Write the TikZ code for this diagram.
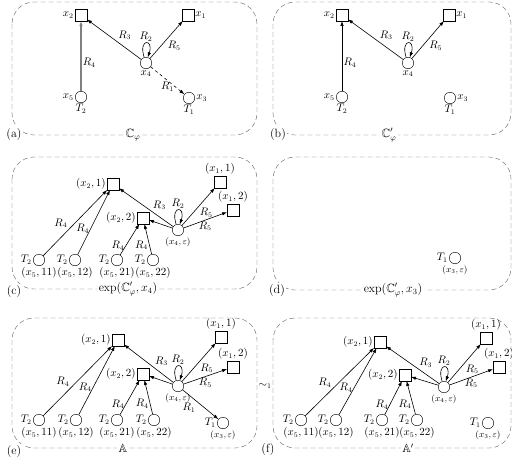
\documentclass[tikz,border=0pt]{standalone}
\usepackage{amssymb}
\usetikzlibrary{arrows.meta,positioning}

\begin{document}
\begin{tikzpicture}[
  x=1pt, y=1pt, font=\fontsize{10.5}{12}\selectfont,
  every label/.style={inner sep=1.2pt},
  sq/.style={draw, minimum size=11.5pt, inner sep=0pt},
  cir/.style={draw, circle, minimum size=11.5pt, inner sep=0pt},
  frm/.style={draw=black!62, dash pattern=on 5pt off 3pt, rounded corners=22pt},
  arr/.style={-{Latex[length=5pt,width=3.5pt]}, line width=0.6pt},
  selfloop/.style={out=108, in=72, min distance=20pt},
  lab/.style={inner sep=1.2pt},
  sm/.style={font=\small},
  captxt/.style={fill=white, inner sep=1.5pt, font=\large}
]
\useasboundingbox (0,0) rectangle (512,-466);

\draw[frm] (12,-2) rectangle (257,-135);
\node[sq, label=left:$x_2$] (a2) at (81,-15) {};
\node[sq, label=right:$x_1$] (a1) at (188,-15) {};
\node[cir, label=below:$x_4$] (a4) at (146,-63) {};
\node[cir, label=left:$x_5$, label=below:$T_2$] (a5) at (81,-97) {};
\node[cir, label=right:$x_3$, label=below:$T_1$] (a3) at (189,-98) {};
\draw[arr, gray, line width=1.2pt] (a5) -- node[pos=0.4, right, lab, text=black] {$R_4$} (a2);
\draw[arr] (a4) -- node[pos=0.45, above right, lab] {$R_3$} (a2);
\draw[arr] (a4) -- node[midway, below right, lab] {$R_5$} (a1);
\draw[arr] (a4) to[selfloop] node[above, lab] {$R_2$} (a4);
\draw[arr, dashed] (a4) -- node[midway, below, lab] {$R_1$} (a3);
\node[captxt] (capa) at (133,-135) {$\mathbb{C}_\varphi$};
\node[captxt] (taga) at (14,-135) {(a)};

\draw[frm] (273,-2) rectangle (511,-135);
\node[sq, label=left:$x_2$] (b2) at (342,-15) {};
\node[sq, label=right:$x_1$] (b1) at (449,-15) {};
\node[cir, label=below:$x_4$] (b4) at (408,-63) {};
\node[cir, label=left:$x_5$, label=below:$T_2$] (b5) at (342,-97) {};
\node[cir, label=right:$x_3$, label=below:$T_1$] (b3) at (450,-98) {};
\draw[arr] (b5) -- node[pos=0.4, right, lab] {$R_4$} (b2);
\draw[arr] (b4) -- node[pos=0.45, above right, lab] {$R_3$} (b2);
\draw[arr] (b4) -- node[midway, below right, lab] {$R_5$} (b1);
\draw[arr] (b4) to[selfloop] node[above, lab] {$R_2$} (b4);
\node[captxt] (capb) at (389,-135) {$\mathbb{C}'_\varphi$};
\node[captxt] (tagb) at (278,-135) {(b)};

\draw[frm] (12,-157) rectangle (257,-289);
\node[sq, label=left:{$(x_2,1)$}] (c21) at (113,-184) {};
\node[sq, label=left:{$(x_2,2)$}] (c22) at (143,-218) {};
\node[sq, label=above:{$(x_1,1)$}] (c11) at (220,-182) {};
\node[sq, label=above:{$(x_1,2)$}] (c12) at (233,-210) {};
\node[cir, label={[sm]below:$(x_4,\varepsilon)$}] (c4) at (178,-230) {};
\node[cir, label=left:$T_2$, label=below:{$(x_5,11)$}] (c511) at (39,-260) {};
\node[cir, label=left:$T_2$, label=below:{$(x_5,12)$}] (c512) at (75,-260) {};
\node[cir, label=left:$T_2$, label=below:{$(x_5,21)$}] (c521) at (117,-260) {};
\node[cir, label=left:$T_2$, label=below:{$(x_5,22)$}] (c522) at (153,-260) {};
\draw[arr] (c511) -- node[pos=0.4, above left, lab] {$R_4$} (c21);
\draw[arr] (c512) -- node[pos=0.4, left, lab] {$R_4$} (c21);
\draw[arr] (c521) -- node[pos=0.3, left, lab] {$R_4$} (c22);
\draw[arr] (c522) -- node[pos=0.3, left, lab] {$R_4$} (c22);
\draw[arr] (c4) -- node[pos=0.4, above right, lab] {$R_3$} (c21);
\draw[arr] (c4) -- (c22);
\draw[arr] (c4) -- node[midway, below right, lab] {$R_5$} (c11);
\draw[arr] (c4) -- node[midway, below, lab] {$R_5$} (c12);
\draw[arr] (c4) to[selfloop] node[above, lab] {$R_2$} (c4);
\node[captxt] (capc) at (128,-289) {$\exp(\mathbb{C}'_\varphi,x_4)$};
\node[captxt] (tagc) at (14,-292) {(c)};

\draw[frm] (273,-157) rectangle (511,-290);
\node[cir, label=left:$T_1$, label={[sm]below:$(x_3,\varepsilon)$}] (d3) at (455,-258) {};
\node[captxt] (capd) at (393,-290) {$\exp(\mathbb{C}'_\varphi,x_3)$};
\node[captxt] (tagd) at (277,-291) {(d)};

\draw[frm] (12,-318) rectangle (257,-448);
\node[sq, label=left:{$(x_2,1)$}] (e21) at (118,-340) {};
\node[sq, label=left:{$(x_2,2)$}] (e22) at (143,-374) {};
\node[sq, label=above:{$(x_1,1)$}] (e11) at (221,-337) {};
\node[sq, label=above:{$(x_1,2)$}] (e12) at (233,-367) {};
\node[cir, label={[sm]below:$(x_4,\varepsilon)$}] (e4) at (178,-386) {};
\node[cir, label=left:$T_2$, label=below:{$(x_5,11)$}] (e511) at (39,-420) {};
\node[cir, label=left:$T_2$, label=below:{$(x_5,12)$}] (e512) at (76,-420) {};
\node[cir, label=left:$T_2$, label=below:{$(x_5,21)$}] (e521) at (117,-420) {};
\node[cir, label=left:$T_2$, label=below:{$(x_5,22)$}] (e522) at (154,-420) {};
\node[cir, label=left:$T_1$, label={[sm]below:$(x_3,\varepsilon)$}] (e3) at (223,-423) {};
\draw[arr] (e511) -- node[pos=0.4, above left, lab] {$R_4$} (e21);
\draw[arr] (e512) -- node[pos=0.4, left, lab] {$R_4$} (e21);
\draw[arr] (e521) -- node[pos=0.3, left, lab] {$R_4$} (e22);
\draw[arr] (e522) -- node[pos=0.3, left, lab] {$R_4$} (e22);
\draw[arr] (e4) -- node[pos=0.4, above right, lab] {$R_3$} (e21);
\draw[arr] (e4) -- (e22);
\draw[arr] (e4) -- node[midway, below right, lab] {$R_5$} (e11);
\draw[arr] (e4) -- node[midway, below, lab] {$R_5$} (e12);
\draw[arr] (e4) to[selfloop] node[above, lab] {$R_2$} (e4);
\draw[arr] (e4) -- node[pos=0.4, below left, lab] {$R_1$} (e3);
\node[captxt] (cape) at (123,-448) {$\mathbb{A}$};
\node[captxt] (tage) at (14,-452) {(e)};

\node (sim) at (265,-386) {$\sim_1$};

\draw[frm] (273,-318) rectangle (511,-448);
\node[sq, label=left:{$(x_2,1)$}] (f21) at (380,-342) {};
\node[sq, label=left:{$(x_2,2)$}] (f22) at (405,-375) {};
\node[sq, label=above:{$(x_1,1)$}] (f11) at (486,-338) {};
\node[sq, label=above:{$(x_1,2)$}] (f12) at (499,-367) {};
\node[cir, label={[sm]below:$(x_4,\varepsilon)$}] (f4) at (444,-387) {};
\node[cir, label=left:$T_2$, label=below:{$(x_5,11)$}] (f511) at (301,-420) {};
\node[cir, label=left:$T_2$, label=below:{$(x_5,12)$}] (f512) at (336,-420) {};
\node[cir, label=left:$T_2$, label=below:{$(x_5,21)$}] (f521) at (382,-420) {};
\node[cir, label=left:$T_2$, label=below:{$(x_5,22)$}] (f522) at (417,-420) {};
\node[cir, label=left:$T_1$, label={[sm]below:$(x_3,\varepsilon)$}] (f3) at (488,-423) {};
\draw[arr] (f511) -- node[pos=0.4, above left, lab] {$R_4$} (f21);
\draw[arr] (f512) -- node[pos=0.4, left, lab] {$R_4$} (f21);
\draw[arr] (f521) -- node[pos=0.3, left, lab] {$R_4$} (f22);
\draw[arr] (f522) -- node[pos=0.3, left, lab] {$R_4$} (f22);
\draw[arr] (f4) -- node[pos=0.4, above right, lab] {$R_3$} (f21);
\draw[arr] (f4) -- (f22);
\draw[arr] (f4) -- node[midway, below right, lab] {$R_5$} (f11);
\draw[arr] (f4) -- node[midway, below, lab] {$R_5$} (f12);
\draw[arr] (f4) to[selfloop] node[above, lab] {$R_2$} (f4);
\node[captxt] (capf) at (408,-448) {$\mathbb{A}'$};
\node[captxt] (tagf) at (268,-450) {(f)};
\end{tikzpicture}
\end{document}
